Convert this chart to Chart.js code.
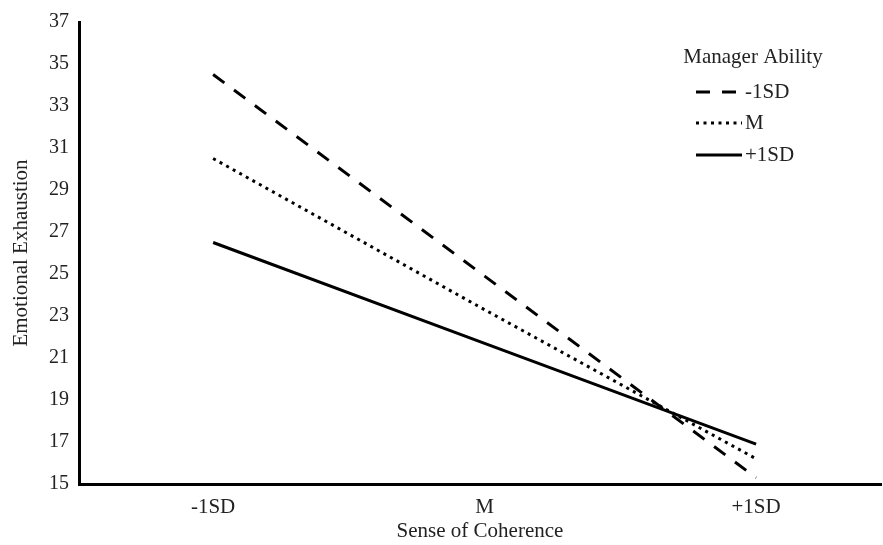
<!DOCTYPE html>
<html>
<head>
<meta charset="utf-8">
<script src="https://cdn.jsdelivr.net/npm/chart.js@4.4.1/dist/chart.umd.min.js"></script>
<style>
  body { margin: 0; background: #fff; }
  #wrap { width: 883px; height: 545px; }
</style>
</head>
<body>
<div id="wrap"><canvas id="chart" width="883" height="545"></canvas></div>
<script>
// --- Data ---
const categories = ['-1SD', 'M', '+1SD'];
const yTicks = [15, 17, 19, 21, 23, 25, 27, 29, 31, 33, 35, 37];
const seriesNames = ['-1SD', 'M', '+1SD'];
const lowAbility = [34.5, 24.9, 15.3];
const meanAbility = [30.5, 23.3, 16.2];
const highAbility = [26.5, 21.7, 16.9];
const legendTitle = 'Manager Ability';

const serif = "'Liberation Serif', 'DejaVu Serif', serif";

function toPoints(values) {
    return values.map((v, i) => ({ x: i, y: v }));
}

// custom legend, drawn from the datasets
const legendPlugin = {
    id: 'customLegend',
    afterDraw(chart) {
        const ctx = chart.ctx;
        ctx.save();
        ctx.fillStyle = '#222';
        ctx.font = '21px ' + serif;
        ctx.textBaseline = 'middle';
        ctx.textAlign = 'center';
        ctx.fillText(legendTitle, 753, 57);
        const rows = [92, 123, 155];
        chart.data.datasets.forEach((ds, i) => {
            ctx.strokeStyle = '#000';
            ctx.lineWidth = 3;
            ctx.setLineDash(ds.borderDash || []);
            ctx.beginPath();
            ctx.moveTo(696, rows[i]);
            ctx.lineTo(742, rows[i]);
            ctx.stroke();
            ctx.setLineDash([]);
            ctx.textAlign = 'left';
            ctx.fillText(ds.label, 745, rows[i]);
        });
        ctx.restore();
    }
};

new Chart(document.getElementById('chart').getContext('2d'), {
    type: 'line',
    data: {
        datasets: [
            { label: seriesNames[0], data: toPoints(lowAbility), borderDash: [14, 12] },
            { label: seriesNames[1], data: toPoints(meanAbility), borderDash: [3, 4.5] },
            { label: seriesNames[2], data: toPoints(highAbility), borderDash: [] }
        ].map(d => Object.assign(d, {
            borderColor: '#000',
            borderWidth: 3,
            pointRadius: 0,
            tension: 0,
            fill: false
        }))
    },
    options: {
        responsive: false,
        animation: false,
        layout: { padding: { top: 20, right: 2, left: 0, bottom: 0 } },
        plugins: { legend: { display: false }, tooltip: { enabled: false } },
        scales: {
            x: {
                type: 'linear',
                min: -0.494,
                max: 2.46,
                afterBuildTicks: (scale) => { scale.ticks = categories.map((c, i) => ({ value: i })); },
                afterFit: (scale) => { scale.height = 61; },
                grid: { display: false, drawTicks: false },
                border: { display: true, color: '#000', width: 3 },
                ticks: {
                    color: '#222',
                    font: { family: serif, size: 21 },
                    padding: 11,
                    maxRotation: 0,
                    callback: (v) => categories[v]
                },
                title: {
                    display: true,
                    text: 'Sense of Coherence',
                    color: '#222',
                    font: { family: serif, size: 21 },
                    padding: { top: 0, bottom: 1 }
                }
            },
            y: {
                min: yTicks[0],
                max: yTicks[yTicks.length - 1],
                afterBuildTicks: (scale) => { scale.ticks = yTicks.map(v => ({ value: v })); },
                afterFit: (scale) => { scale.width = 79; },
                grid: { display: false, drawTicks: false },
                border: { display: true, color: '#000', width: 3 },
                ticks: {
                    color: '#222',
                    font: { family: serif, size: 20 },
                    padding: 10
                },
                title: {
                    display: true,
                    text: 'Emotional Exhaustion',
                    color: '#222',
                    font: { family: serif, size: 21 },
                    padding: { top: 9, bottom: 0 }
                }
            }
        }
    },
    plugins: [legendPlugin]
});
</script>
</body>
</html>
